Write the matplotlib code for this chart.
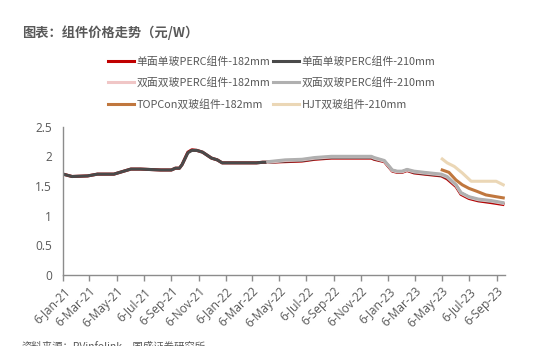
import datetime as dt
import matplotlib
matplotlib.use("Agg")
import matplotlib.pyplot as plt
import matplotlib.dates as mdates
from matplotlib.ticker import FuncFormatter

plt.rcParams['font.family'] = ['Noto Sans CJK SC', 'DejaVu Sans']

# PERC price dates (single-glass series cover the whole range)
perc_dates = [
    "2021-01-06", "2021-01-26", "2021-03-02", "2021-03-24", "2021-04-30", "2021-05-20",
    "2021-06-07", "2021-06-29", "2021-08-13", "2021-09-06", "2021-09-15", "2021-09-24",
    "2021-09-30", "2021-10-13", "2021-10-22", "2021-11-02", "2021-11-15", "2021-12-05",
    "2021-12-18", "2021-12-29", "2022-03-16", "2022-03-30",
    "2022-04-11", "2022-05-19", "2022-06-26", "2022-07-25", "2022-08-31", "2022-11-29",
    "2022-12-05", "2022-12-28", "2023-01-15", "2023-01-26", "2023-02-06", "2023-02-17",
    "2023-03-05", "2023-03-28", "2023-05-05", "2023-05-18", "2023-06-07", "2023-06-18",
    "2023-07-06", "2023-07-27", "2023-08-25", "2023-09-20",
]
single_182 = [
    1.70, 1.66, 1.67, 1.70, 1.70, 1.745, 1.785, 1.785, 1.77, 1.77, 1.80, 1.80,
    1.86, 2.07, 2.11, 2.10, 2.07, 1.97, 1.94, 1.89, 1.89, 1.90,
    1.90, 1.91, 1.92, 1.95, 1.97, 1.97, 1.95, 1.91, 1.75, 1.73, 1.73, 1.76,
    1.72, 1.70, 1.67, 1.62, 1.49, 1.36, 1.29, 1.25, 1.22, 1.19,
]
single_210 = [
    1.70, 1.66, 1.67, 1.70, 1.70, 1.745, 1.785, 1.785, 1.77, 1.77, 1.80, 1.80,
    1.86, 2.06, 2.10, 2.10, 2.07, 1.97, 1.94, 1.89, 1.89, 1.90,
    1.90, 1.92, 1.93, 1.96, 1.98, 1.98, 1.96, 1.92, 1.76, 1.74, 1.74, 1.77,
    1.73, 1.71, 1.68, 1.64, 1.51, 1.38, 1.31, 1.265, 1.24, 1.21,
]

# bifacial series start in April 2022
bif_dates = perc_dates[22:]
bif_182 = [
    1.90, 1.93, 1.94, 1.97, 1.99, 1.99, 1.97, 1.92, 1.76, 1.74, 1.74, 1.77,
    1.74, 1.72, 1.69, 1.65, 1.51, 1.38, 1.31, 1.27, 1.245, 1.21,
]
bif_210 = [
    1.91, 1.94, 1.95, 1.98, 2.00, 2.00, 1.98, 1.93, 1.77, 1.75, 1.75, 1.78,
    1.75, 1.73, 1.70, 1.66, 1.52, 1.39, 1.32, 1.28, 1.255, 1.22,
]

topcon_dates = ["2023-05-07", "2023-05-22", "2023-06-07", "2023-06-21", "2023-07-06",
                "2023-07-24", "2023-08-13", "2023-09-05", "2023-09-21"]
topcon_182 = [1.77, 1.73, 1.60, 1.52, 1.46, 1.41, 1.35, 1.32, 1.30]

hjt_dates = ["2023-05-07", "2023-05-18", "2023-06-03", "2023-06-21", "2023-07-11",
             "2023-09-05", "2023-09-21"]
hjt_210 = [1.955, 1.89, 1.83, 1.72, 1.58, 1.58, 1.52]


def to_dates(lst):
    return [dt.datetime.strptime(s, "%Y-%m-%d") for s in lst]


txt = '#595959'
fig = plt.figure(figsize=(5.35, 3.46), dpi=100)
ax = fig.add_axes([0.118, 0.205, 0.826, 0.429])

lw = 2.2
l1, = ax.plot(to_dates(perc_dates), single_182, color='#C00000', lw=lw, label='单面单玻PERC组件-182mm')
l2, = ax.plot(to_dates(perc_dates), single_210, color='#4A4A4A', lw=lw, label='单面单玻PERC组件-210mm')
l3, = ax.plot(to_dates(bif_dates), bif_182, color='#F0C6C6', lw=lw, label='双面双玻PERC组件-182mm')
l4, = ax.plot(to_dates(bif_dates), bif_210, color='#B0B0B0', lw=lw, label='双面双玻PERC组件-210mm')
l5, = ax.plot(to_dates(topcon_dates), topcon_182, color='#C0773E', lw=lw, label='TOPCon双玻组件-182mm')
l6, = ax.plot(to_dates(hjt_dates), hjt_210, color='#EBD7B6', lw=lw, label='HJT双玻组件-210mm')

ax.set_xlim(dt.datetime(2021, 1, 6), dt.datetime(2023, 9, 25))
ax.set_ylim(0, 2.5)
ax.set_yticks([0, 0.5, 1, 1.5, 2, 2.5])
ax.set_yticklabels(["0", "0.5", "1", "1.5", "2", "2.5"])

ax.xaxis.set_major_locator(mdates.MonthLocator(bymonth=range(1, 13, 2), bymonthday=6))
ax.xaxis.set_major_formatter(FuncFormatter(
    lambda v, pos: (lambda d: f"{d.day}-{d:%b-%y}")(mdates.num2date(v))))

for lab in ax.get_xticklabels():
    lab.set_rotation(45)
    lab.set_ha('right')
    lab.set_rotation_mode('anchor')

ax.tick_params(axis='x', length=4, width=1, color='#8C8C8C', labelsize=8.6, labelcolor=txt, pad=3)
ax.tick_params(axis='y', length=0, labelsize=8.6, labelcolor=txt, pad=8)
for lab in ax.get_xticklabels() + ax.get_yticklabels():
    lab.set_family('Open Sans')

for s in ['top', 'right']:
    ax.spines[s].set_visible(False)
for s in ['left', 'bottom']:
    ax.spines[s].set_color('#8C8C8C')
    ax.spines[s].set_linewidth(1)

# legend filled column-first, so order handles to read row by row
handles = [l1, l3, l5, l2, l4, l6]
fig.legend(handles=handles, labels=[h.get_label() for h in handles],
           loc='upper left', bbox_to_anchor=(0.192, 0.853), ncol=2, frameon=False,
           fontsize=7.8, handlelength=2.4, handletextpad=0.2, columnspacing=0.3,
           labelspacing=0.98, borderpad=0, labelcolor=txt)

fig.text(0.041, 0.905, '图表：组件价格走势（元/W）', fontsize=9.5, fontweight='bold',
         color=txt, va='center', ha='left')
fig.text(0.041, 0.012, '资料来源：PVinfolink，国盛证券研究所', fontsize=7.5,
         color=txt, va='top', ha='left')

fig.savefig('out.png', dpi=100)
